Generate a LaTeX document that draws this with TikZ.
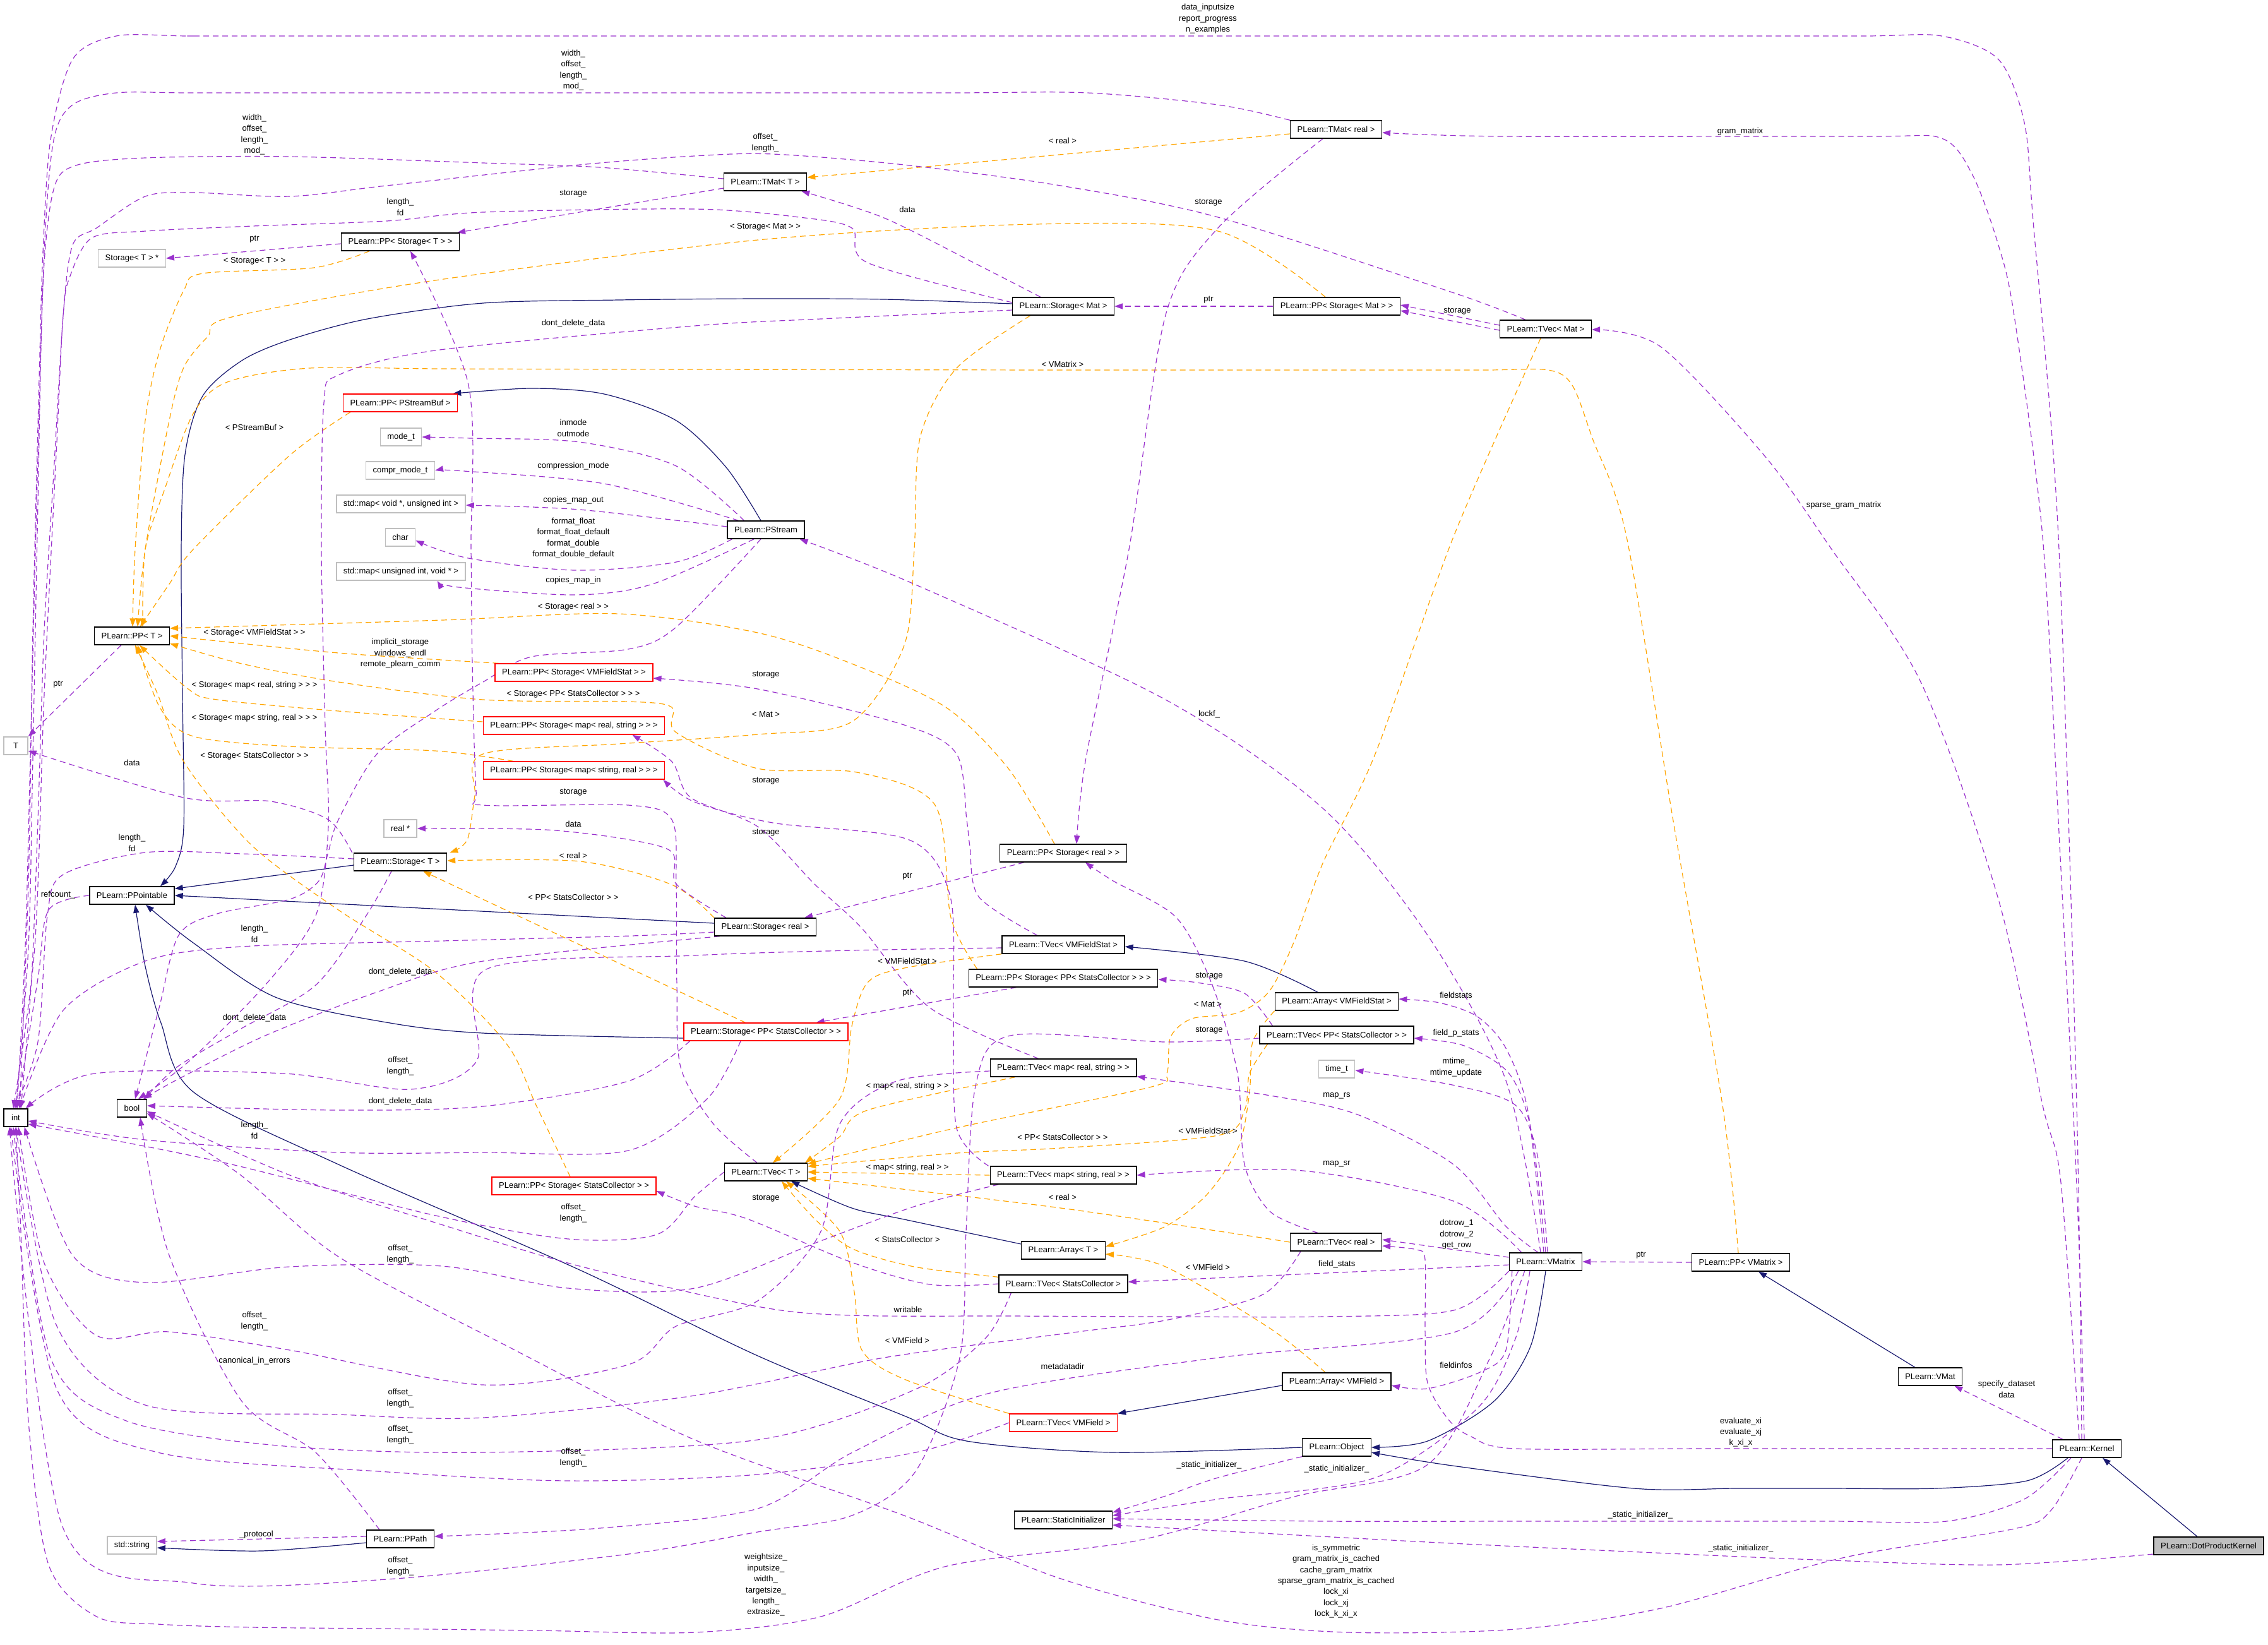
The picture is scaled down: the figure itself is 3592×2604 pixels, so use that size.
\documentclass[tikz,border=0pt]{standalone}
\usepackage{fontspec}
\setmainfont{Liberation Sans}
\usetikzlibrary{arrows.meta,calc}
\definecolor{edgeuse}{HTML}{9A32CD}
\definecolor{edgetpl}{HTML}{FFA500}
\definecolor{edgeinh}{HTML}{191970}
\definecolor{boxgray}{HTML}{BFBFBF}
\newcommand{\boxfont}{\fontsize{6.5}{7.8}\selectfont}
\newcommand{\lblfont}{\fontsize{6.5}{8.7}\selectfont}
\pgfdeclarelayer{edges}
\pgfsetlayers{edges,main}
\tikzset{
  cls/.style={draw=black, line width=0.7pt, fill=white, inner xsep=5.5pt, inner ysep=0pt, minimum height=14pt, font=\boxfont},
  clsred/.style={cls, draw=red},
  clsext/.style={cls, draw=boxgray},
  clscur/.style={cls, fill=boxgray},
  inh/.style={draw=edgeinh, line width=0.6pt, -{Triangle[length=6.5pt,width=4.6pt]}},
  usage/.style={draw=edgeuse, line width=0.6pt, dash pattern=on 4.5pt off 3pt, -{Triangle[length=6.5pt,width=4.6pt]}},
  tmpl/.style={draw=edgetpl, line width=0.6pt, dash pattern=on 4.5pt off 3pt, -{Triangle[length=6.5pt,width=4.6pt]}},
  lbl/.style={font=\lblfont, align=center, inner sep=0pt},
}
\begin{document}
\begin{tikzpicture}[x=0.5pt,y=-0.5pt]
\useasboundingbox (0,0) rectangle (3592,2604);

% Class nodes
\node[clscur] (dpk) at (3498,2448) {PLearn::DotProductKernel};
\node[cls] (kernel) at (3305,2294) {PLearn::Kernel};
\node[cls] (vmat) at (3057,2180) {PLearn::VMat};
\node[cls] (ppvmatrix) at (2757,1999) {PLearn::PP< VMatrix >};
\node[cls] (vmatrix) at (2448,1998) {PLearn::VMatrix};
\node[cls] (tvecmat) at (2448,521) {PLearn::TVec< Mat >};
\node[cls] (tmatreal) at (2116,205) {PLearn::TMat< real >};
\node[cls] (ppstmat) at (2117,485) {PLearn::PP< Storage< Mat > >};
\node[cls] (arrvmfs) at (2117,1586) {PLearn::Array< VMFieldStat >};
\node[cls] (tvecppsc) at (2117,1639) {PLearn::TVec< PP< StatsCollector > >};
\node[clsext] (timet) at (2117,1693) {time\_t};
\node[cls] (tvecreal) at (2116,1967) {PLearn::TVec< real >};
\node[cls] (arrvmf) at (2117,2188) {PLearn::Array< VMField >};
\node[cls] (object) at (2117,2292) {PLearn::Object};
\node[cls] (stmat) at (1684,485) {PLearn::Storage< Mat >};
\node[cls] (ppstreal) at (1684,1351) {PLearn::PP< Storage< real > >};
\node[cls] (tvecvmfs) at (1684,1496) {PLearn::TVec< VMFieldStat >};
\node[cls] (ppstppsc) at (1684,1549) {PLearn::PP< Storage< PP< StatsCollector > > >};
\node[cls] (tvecmrs) at (1684,1691) {PLearn::TVec< map< real, string > >};
\node[cls] (tvecmsr) at (1684,1861) {PLearn::TVec< map< string, real > >};
\node[cls] (arrt) at (1684,1980) {PLearn::Array< T >};
\node[cls] (tvecsc) at (1684,2033) {PLearn::TVec< StatsCollector >};
\node[clsred] (tvecvmf) at (1684,2253) {PLearn::TVec< VMField >};
\node[cls] (statinit) at (1684,2407) {PLearn::StaticInitializer};
\node[cls] (tmatt) at (1212,288) {PLearn::TMat< T >};
\node[cls] (pstream) at (1213,839) {PLearn::PStream};
\node[cls] (streal) at (1212,1468) {PLearn::Storage< real >};
\node[clsred] (stppsc) at (1213,1634) {PLearn::Storage< PP< StatsCollector > >};
\node[cls] (tvect) at (1213,1856) {PLearn::TVec< T >};
\node[clsred] (ppstvmfs) at (909,1065) {PLearn::PP< Storage< VMFieldStat > >};
\node[clsred] (ppstmrs) at (909,1149) {PLearn::PP< Storage< map< real, string > > >};
\node[clsred] (ppstmsr) at (909,1220) {PLearn::PP< Storage< map< string, real > > >};
\node[clsred] (ppstsc) at (909,1878) {PLearn::PP< Storage< StatsCollector > >};
\node[cls] (ppstt) at (634,383) {PLearn::PP< Storage< T > >};
\node[clsred] (pppsb) at (634,638) {PLearn::PP< PStreamBuf >};
\node[clsext] (modet) at (635,692) {mode\_t};
\node[clsext] (comprmodet) at (634,745) {compr\_mode\_t};
\node[clsext] (mapvoid) at (635,798) {std::map< void *, unsigned int >};
\node[clsext] (chart) at (634,851) {char};
\node[clsext] (mapuint) at (635,905) {std::map< unsigned int, void * >};
\node[clsext] (realptr) at (634,1312) {real *};
\node[cls] (stt) at (634,1365) {PLearn::Storage< T >};
\node[cls] (ppath) at (634,2437) {PLearn::PPath};
\node[clsext] (stptr) at (209,409) {Storage< T > *};
\node[cls] (ppt) at (209,1007) {PLearn::PP< T >};
\node[cls] (ppointable) at (209,1418) {PLearn::PPointable};
\node[cls] (bool) at (209,1755) {bool};
\node[clsext] (stdstring) at (209,2447) {std::string};
\node[clsext, minimum width=19pt] (tnode) at (25,1181) {T};
\node[cls, minimum width=19pt] (int) at (25,1770) {int};

\begin{pgfonlayer}{edges}
% Inheritance
\draw[inh] ($(dpk.north)+(-18,0)$) -- ($(kernel.south)+(25,0)$);
\draw[inh] plot[smooth] coordinates {($(kernel.south)+(-30,0)$) (3210,2345) (3066,2357) (2900,2357) (2750,2357) (2588,2357) (2300,2321) ($(object.east)+(0,8)$)};
\draw[inh] plot[smooth] coordinates {(vmatrix.south) (2424,2132) (2366,2219) (2261,2282) (object.east)};
\draw[inh] ($(vmat.north)+(-24,0)$) -- ($(ppvmatrix.south)+(28,0)$);
\draw[inh] plot[smooth] coordinates {(object.west) (1763,2300) (1531,2282) (1432,2242) (1200,2147) (918,2011) (536,1844) (306,1729) (255,1620) (230,1530) ($(ppointable.south)+(5,0)$)};
\draw[inh] plot[smooth] coordinates {($(stppsc.west)+(0,10)$) (765,1636) (612,1619) (436,1579) (306,1493) ($(ppointable.south)+(22,0)$)};
\draw[inh] ($(stt.west)+(0,5)$) -- ($(ppointable.north east)+(0,4)$);
\draw[inh] ($(streal.west)+(0,-6)$) -- (ppointable.east);
\draw[inh] plot[smooth] coordinates {($(stmat.west)+(0,-4)$) (1400,474) (1200,473) (980,475) (765,480) (582,505) (459,538) (383,571) (321,627) (293,720) (287,870) (289,1100) (291,1309) (278,1372) ($(ppointable.north)+(45,0)$)};
\draw[inh] plot[smooth] coordinates {($(pstream.north)+(-8,0)$) (1150,740) (1071,666) (957,624) (842,615) ($(pppsb.north east)+(-8,0)$)};
\draw[inh] plot[smooth] coordinates {($(ppath.west)+(0,6)$) (413,2456) ($(stdstring.east)+(0,4)$)};
\draw[inh] plot[smooth] coordinates {($(arrvmfs.north)+(-30,0)$) (1971,1522) ($(tvecvmfs.east)+(0,3)$)};
\draw[inh] ($(arrvmf.west)+(0,6)$) -- (tvecvmf.north east);
\draw[inh] plot[smooth] coordinates {($(arrt.west)+(0,-10)$) (1432,1931) (1349,1913) ($(tvect.south)+(40,0)$)};

% Template instances
\draw[tmpl] ($(tmatreal.west)+(0,7)$) -- ($(tmatt.east)+(0,-7)$);
\draw[tmpl] plot[smooth] coordinates {($(ppstt.south west)+(45,0)$) (497,424) (321,433) (291,460) (253,555) (230,666) (214,870) ($(ppt.north)+(1,0)$)};
\draw[tmpl] plot[smooth] coordinates {($(ppstmat.north)+(-18,0)$) (1929,366) (1639,355) (1200,380) (689,444) (367,502) (329,533) (291,582) (268,666) (230,870) ($(ppt.north)+(9,0)$)};
\draw[tmpl] plot[smooth] coordinates {($(pppsb.south west)+(12,0)$) (459,721) (306,870) (268,925) ($(ppt.north)+(13,0)$)};
\draw[tmpl] plot[smooth] coordinates {($(ppvmatrix.north)+(-4,0)$) (2728,1750) (2650,1300) (2576,850) (2522,694) (2490,610) (2452,586) (2350,586) (2100,586) (1683,586) (1100,585) (700,584) (490,583) (360,605) (306,655) (260,777) (230,870) ($(ppt.north)+(17,0)$)};
\draw[tmpl] plot[smooth] coordinates {($(ppstreal.north)+(-14,0)$) (1597,1217) (1498,1120) (1349,1051) (1200,1002) (980,972) (700,982) ($(ppt.east)+(0,-12)$)};
\draw[tmpl] plot[smooth] coordinates {($(ppstvmfs.north west)+(6,0)$) (536,1034) (ppt.east)};
\draw[tmpl] plot[smooth] coordinates {($(ppstppsc.north west)+(14,0)$) (1506,1453) (1481,1275) (1357,1223) (1200,1217) (1071,1160) (1064,1120) (995,1111) (765,1108) (536,1080) (383,1051) ($(ppt.east)+(0,12)$)};
\draw[tmpl] plot[smooth] coordinates {($(ppstmrs.west)+(0,-6)$) (536,1126) (344,1108) (298,1091) ($(ppt.south)+(12,0)$)};
\draw[tmpl] plot[smooth] coordinates {($(ppstmsr.north west)+(48,0)$) (689,1189) (459,1182) (306,1166) (253,1120) ($(ppt.south)+(9,0)$)};
\draw[tmpl] plot[smooth] coordinates {($(ppstsc.north)+(-6,0)$) (849,1750) (803,1654) (689,1539) (536,1441) (398,1338) (291,1206) (250,1100) ($(ppt.south)+(5,0)$)};
\draw[tmpl] plot[smooth] coordinates {(streal.north west) (1064,1401) (918,1364) ($(stt.east)+(0,-2)$)};
\draw[tmpl] ($(stppsc.north west)+(98,0)$) -- ($(stt.south east)+(-38,0)$);
\draw[tmpl] plot[smooth] coordinates {($(stmat.south west)+(29,0)$) (1515,583) (1457,694) (1448,870) (1432,1022) (1349,1143) (1200,1163) (980,1178) (765,1194) (752,1260) (740,1330) ($(stt.north east)+(4,0)$)};
\draw[tmpl] plot[smooth] coordinates {(tvecvmfs.south west) (1432,1533) (1374,1556) (1349,1625) (1330,1740) ($(tvect.north)+(11,0)$)};
\draw[tmpl] plot[smooth] coordinates {($(tvecmrs.south west)+(40,0)$) (1374,1758) (1330,1800) ($(tvect.north)+(62,0)$)};
\draw[tmpl] (tvecmsr.west) -- (tvect.east);
\draw[tmpl] plot[smooth] coordinates {($(tvecppsc.south west)+(13,0)$) (1979,1700) (1971,1758) (1929,1798) (1680,1818) (1515,1826) ($(tvect.east)+(0,-9)$)};
\draw[tmpl] plot[smooth] coordinates {(arrvmfs.south west) (1984,1650) (1979,1729) (1962,1815) (1913,1890) (1846,1942) ($(arrt.east)+(0,-6)$)};
\draw[tmpl] plot[smooth] coordinates {($(tvecmat.south)+(-8,0)$) (2302,850) (2178,1194) (2095,1367) (2050,1490) (2010,1570) (1960,1604) (1888,1613) (1854,1642) (1848,1700) (1820,1722) (1515,1786) ($(tvect.east)+(0,-13)$)};
\draw[tmpl] plot[smooth] coordinates {(tvecreal.west) (1680,1913) ($(tvect.east)+(0,10)$)};
\draw[tmpl] plot[smooth] coordinates {($(arrvmf.north)+(-18,0)$) (2012,2104) (1846,2006) ($(arrt.east)+(0,6)$)};
\draw[tmpl] plot[smooth] coordinates {($(tvecsc.north west)+(0,4)$) (1448,2006) (1349,1977) (1291,1931) ($(tvect.south)+(25,0)$)};
\draw[tmpl] plot[smooth] coordinates {(tvecvmf.north west) (1432,2184) (1365,2138) (1353,2046) (1330,1950) ($(tvect.south)+(32,0)$)};

% Members of PLearn::Kernel and PLearn::DotProductKernel
\draw[usage] plot[smooth] coordinates {($(kernel.north)+(-8,0)$) (3289,1750) (3260,850) (3220,350) (3206,194) (3165,94) (3075,57) (2950,57) (2600,57) (500,57) (300,57) (184,57) (115,94) (80,222) (68,400) (62,600) (52,1000) (45,1400) ($(int.north)+(6,0)$)};
\draw[usage] plot[smooth] coordinates {($(kernel.north)+(-4,0)$) (3290,1900) (3260,1300) (3235,850) (3190,500) (3165,388) (3124,277) (3075,219) (2950,216) (2382,216) ($(tmatreal.east)+(0,5)$)};
\draw[usage] plot[smooth] coordinates {($(kernel.north)+(-12,0)$) (3264,1873) (3235,1750) (3165,1424) (3042,1080) (2901,870) (2794,721) (2630,549) ($(tvecmat.east)+(0,1)$)};
\draw[usage] ($(kernel.north west)+(17,0)$) -- ($(vmat.south east)+(-13,0)$);
\draw[usage] plot[smooth] coordinates {(kernel.west) (3000,2294) (2700,2294) (2399,2294) (2330,2275) (2294,2248) (2261,2190) (2257,2104) (2257,1995) (2244,1979) ($(tvecreal.east)+(0,6)$)};
\draw[usage] plot[smooth] coordinates {($(kernel.south west)+(30,0)$) (3206,2374) (3083,2409) (2900,2409) (2600,2409) (2400,2409) (2100,2409) ($(statinit.east)+(0,-2)$)};
\draw[usage] plot[smooth] coordinates {($(kernel.south)+(-8,0)$) (3248,2392) (3190,2421) (2918,2467) (2630,2547) (2400,2580) (2136,2585) (1929,2565) (1680,2500) (1432,2400) (1100,2280) (800,2130) (536,1990) (380,1860) ($(bool.east)+(0,8)$)};
\draw[usage] plot[smooth] coordinates {($(dpk.west)+(0,13)$) (3165,2478) (2877,2470) (2600,2458) (2300,2444) (2000,2428) ($(statinit.east)+(0,8)$)};

% Members of PLearn::Object and PLearn::VMatrix
\draw[usage] plot[smooth] coordinates {(object.south west) (1929,2340) (1846,2369) ($(statinit.east)+(0,-12)$)};
\draw[usage] plot[smooth] coordinates {($(vmatrix.south)+(-25,0)$) (2400,2120) (2340,2230) (2178,2340) (1929,2374) ($(statinit.east)+(0,-7)$)};
\draw[usage] (ppvmatrix.west) -- (vmatrix.east);
\draw[usage] plot[smooth] coordinates {($(vmatrix.north)+(-8,0)$) (2385,1711) (2261,1481) (2095,1280) (1846,1108) (1448,925) ($(pstream.south east)+(-8,0)$)};
\draw[usage] plot[smooth] coordinates {($(vmatrix.north)+(-3,0)$) (2420,1760) (2385,1660) (2340,1610) (2280,1588) ($(arrvmfs.east)+(0,-4)$)};
\draw[usage] plot[smooth] coordinates {(vmatrix.north) (2425,1790) (2390,1700) (2319,1656) ($(tvecppsc.east)+(0,5)$)};
\draw[usage] plot[smooth] coordinates {($(vmatrix.north)+(3,0)$) (2435,1830) (2400,1750) (2300,1718) ($(timet.east)+(0,2)$)};
\draw[usage] plot[smooth] coordinates {($(vmatrix.north)+(-12,0)$) (2385,1942) (2302,1844) (2150,1765) (2012,1735) ($(tvecmrs.south east)+(0,-1)$)};
\draw[usage] plot[smooth] coordinates {($(vmatrix.north west)+(20,0)$) (2302,1902) (2053,1853) (tvecmsr.east)};
\draw[usage] ($(vmatrix.west)+(0,-7)$) -- ($(tvecreal.east)+(0,-4)$);
\draw[usage] ($(vmatrix.west)+(0,5)$) -- ($(tvecsc.east)+(0,-3)$);
\draw[usage] plot[smooth] coordinates {(vmatrix.south west) (2302,2075) (2095,2085) (1850,2085) (1600,2084) (1349,2083) (1200,2069) (918,2005) (689,1936) (459,1861) ($(bool.east)+(0,5)$)};
\draw[usage] plot[smooth] coordinates {($(vmatrix.south west)+(15,0)$) (2302,2110) (1929,2150) (1564,2207) (1350,2300) (1200,2389) (950,2420) ($(ppath.east)+(0,-4)$)};
\draw[usage] plot[smooth] coordinates {($(vmatrix.south west)+(25,0)$) (2360,2150) (2260,2320) (2050,2370) (1800,2440) (1500,2480) (1300,2560) (1100,2585) (850,2582) (600,2579) (400,2577) (250,2572) (153,2560) (77,2478) (45,2250) (33,1950) (int.south)};
\draw[usage] plot[smooth] coordinates {($(vmatrix.south west)+(5,0)$) (2385,2138) (2344,2173) (2261,2199) ($(arrvmf.east)+(0,6)$)};

% Members of the matrix and vector classes
\draw[usage] plot[smooth] coordinates {(tmatreal.north west) (1929,166) (1722,147) (1500,147) (1000,147) (500,147) (300,147) (184,147) (115,166) (85,222) (70,400) (58,800) (48,1200) (40,1500) ($(int.north)+(2,0)$)};
\draw[usage] plot[smooth] coordinates {($(tmatreal.south)+(-21,0)$) (1929,361) (1846,499) (1788,870) (1720,1200) ($(ppstreal.north)+(21,0)$)};
\draw[usage] plot[smooth] coordinates {($(tmatt.west)+(0,-5)$) (950,265) (765,258) (459,248) (230,250) (120,262) (85,300) (68,450) (60,800) (52,1200) (45,1500) (int.north)};
\draw[usage] ($(tmatt.west)+(0,10)$) -- ($(ppstt.north east)+(-4,0)$);
\draw[usage] plot[smooth] coordinates {($(tvecmat.north west)+(41,0)$) (2300,463) (1929,344) (1680,294) (1432,261) (1224,244) (1100,247) (918,261) (612,294) (459,311) (306,305) (230,311) (153,361) (115,388) (100,500) (90,700) (70,1100) (55,1500) ($(int.north)+(-4,0)$)};
\draw[usage] ($(tvecmat.west)+(0,2)$) -- ($(ppstmat.east)+(0,7)$);
\draw[usage] (ppstmat.west) -- (stmat.east);
\draw[usage] plot[smooth] coordinates {($(stmat.north west)+(45,0)$) (1550,420) (1400,345) ($(tmatt.south east)+(-9,0)$)};
\draw[usage] plot[smooth] coordinates {($(stmat.west)+(0,-6)$) (1374,416) (1349,361) (1266,344) (1100,331) (765,336) (612,350) (400,358) (230,366) (145,377) (110,440) (100,500) (85,750) (70,1000) (60,1300) (50,1550) ($(int.north)+(8,0)$)};
\draw[usage] plot[smooth] coordinates {($(stmat.west)+(0,6)$) (1300,505) (1100,516) (689,555) (536,594) (513,638) (509,870) (515,1150) (520,1309) (500,1450) (420,1560) (300,1680) ($(bool.north)+(10,0)$)};
\draw[usage] ($(ppstt.west)+(0,3)$) -- (stptr.east);

% Members of PLearn::PStream
\draw[usage] plot[smooth] coordinates {($(pstream.north west)+(27,0)$) (1071,738) (918,700) (746,694) (modet.east)};
\draw[usage] plot[smooth] coordinates {($(pstream.north west)+(18,0)$) (957,766) (735,746) (comprmodet.east)};
\draw[usage] plot[smooth] coordinates {($(pstream.west)+(0,-5)$) (918,807) ($(mapvoid.east)+(0,2)$)};
\draw[usage] plot[smooth] coordinates {($(pstream.south west)+(8,0)$) (1071,890) (911,903) (742,884) ($(chart.east)+(0,5)$)};
\draw[usage] plot[smooth] coordinates {($(pstream.south)+(-19,0)$) (1033,925) (911,942) (727,930) ($(mapuint.south east)+(-45,0)$)};
\draw[usage] plot[smooth] coordinates {($(pstream.south)+(-8,0)$) (1071,993) (995,1028) (842,1040) (765,1080) (689,1126) (597,1194) (536,1298) (520,1349) (505,1395) (459,1424) (344,1447) (283,1481) (252,1596) ($(bool.north)+(5,0)$)};

% Members of the storage classes
\draw[usage] ($(ppt.south west)+(43,0)$) -- (tnode.north east);
\draw[usage] plot[smooth] coordinates {($(stt.north west)+(-2,0)$) (520,1298) (429,1269) (291,1263) ($(tnode.east)+(0,8)$)};
\draw[usage] plot[smooth] coordinates {($(stt.west)+(0,-5)$) (383,1352) (230,1350) (100,1385) (75,1450) (60,1650) ($(int.north)+(-2,0)$)};
\draw[usage] plot[smooth] coordinates {(ppointable.west) (77,1441) (60,1550) ($(int.north)+(2,0)$)};
\draw[usage] plot[smooth] coordinates {($(streal.west)+(0,8)$) (1000,1482) (700,1490) (383,1499) (230,1522) (100,1600) ($(int.north)+(6,0)$)};
\draw[usage] plot[smooth] coordinates {($(streal.south west)+(9,0)$) (765,1522) (600,1570) (420,1640) (280,1710) ($(bool.north east)+(-6,0)$)};
\draw[usage] plot[smooth] coordinates {($(stt.south)+(-14,0)$) (580,1450) (500,1560) (380,1630) (280,1690) ($(bool.north)+(20,0)$)};
\draw[usage] plot[smooth] coordinates {($(stppsc.south west)+(10,0)$) (995,1712) (765,1752) (536,1758) ($(bool.east)+(0,-4)$)};
\draw[usage] plot[smooth] coordinates {($(stppsc.south)+(-40,0)$) (1120,1740) (995,1822) (765,1825) (536,1825) (230,1805) ($(int.east)+(0,5)$)};
\draw[usage] ($(ppstreal.south west)+(39,0)$) -- ($(streal.north east)+(-19,0)$);
\draw[usage] plot[smooth] coordinates {($(streal.north west)+(19,0)$) (1071,1400) (1056,1344) (880,1315) (realptr.east)};
\draw[usage] ($(ppstppsc.south west)+(76,0)$) -- ($(stppsc.north east)+(-51,0)$);

% storage members of the vector classes
\draw[usage] plot[smooth] coordinates {($(tvecvmfs.north)+(-41,0)$) (1550,1420) (1536,1340) (1531,1298) (1515,1194) (1432,1148) (1200,1091) ($(ppstvmfs.east)+(0,9)$)};
\draw[usage] plot[smooth] coordinates {($(tvecmrs.north west)+(77,0)$) (1473,1596) (1365,1470) (1291,1401) (1200,1309) (1094,1263) (1064,1206) ($(ppstmrs.south east)+(-52,0)$)};
\draw[usage] plot[smooth] coordinates {($(tvecmsr.north west)+(-2,0)$) (1515,1786) (1510,1600) (1505,1420) (1440,1330) (1224,1303) (1100,1270) ($(ppstmsr.south east)+(-3,0)$)};
\draw[usage] plot[smooth] coordinates {($(tvect.north)+(-14,0)$) (1130,1780) (1078,1690) (1072,1560) (1071,1400) (1064,1298) (995,1275) (765,1275) (754,1252) (748,1050) (746,870) (742,610) ($(ppstt.south)+(16,0)$)};
\draw[usage] plot[smooth] coordinates {(tvecsc.west) (1473,2034) (1349,1999) (1183,1930) (1100,1910) ($(ppstsc.east)+(0,8)$)};
\draw[usage] plot[smooth] coordinates {($(tvecppsc.north west)+(21,0)$) (1971,1573) (1896,1556) ($(ppstppsc.east)+(0,2)$)};
\draw[usage] plot[smooth] coordinates {($(tvecreal.north)+(-29,0)$) (2012,1919) (1971,1844) (1960,1700) (1920,1560) (1863,1453) (1763,1395) ($(ppstreal.south east)+(-66,0)$)};
\draw[usage] ($(tvecmat.west)+(0,-6)$) -- ($(ppstmat.east)+(0,-2)$);

% offset_ and length_ of the vector classes
\draw[usage] plot[smooth] coordinates {($(tvecvmfs.west)+(0,5)$) (1350,1505) (1100,1513) (770,1535) (755,1680) (650,1725) (450,1700) (150,1700) ($(int.north east)+(-4,0)$)};
\draw[usage] plot[smooth] coordinates {(tvect.west) (1100,1895) (1040,1955) (900,1962) (690,1925) (350,1840) ($(int.east)+(0,10)$)};
\draw[usage] plot[smooth] coordinates {($(tvecmsr.south west)+(14,0)$) (1450,1910) (1300,1965) (1100,2040) (900,2040) (700,2005) (459,2006) (230,2031) (115,1988) ($(int.south east)+(-6,0)$)};
\draw[usage] plot[smooth] coordinates {($(tvecmrs.west)+(0,5)$) (1420,1712) (1330,1780) (1300,1950) (1200,2060) (1071,2100) (995,2161) (765,2193) (459,2138) (268,2109) (153,2115) (70,2000) ($(int.south)+(4,0)$)};
\draw[usage] plot[smooth] coordinates {($(tvecreal.south west)+(17,0)$) (2000,2050) (1850,2090) (1700,2110) (1400,2150) (1100,2210) (765,2245) (536,2240) (230,2225) (90,2100) (int.south)};
\draw[usage] plot[smooth] coordinates {($(tvecsc.south west)+(20,0)$) (1560,2120) (1450,2200) (1200,2280) (765,2300) (450,2290) (200,2250) (80,2150) ($(int.south)+(-4,0)$)};
\draw[usage] plot[smooth] coordinates {(tvecvmf.west) (1450,2300) (1200,2335) (900,2345) (600,2330) (250,2300) (90,2200) ($(int.south)+(-8,0)$)};
\draw[usage] plot[smooth] coordinates {($(tvecppsc.west)+(0,5)$) (1846,1650) (1600,1640) (1545,1720) (1530,1950) (1520,2150) (1450,2330) (1349,2400) (1200,2426) (995,2461) (612,2501) (306,2507) (100,2420) ($(int.south)+(-10,0)$)};

% Members of PLearn::PPath
\draw[usage] plot[smooth] coordinates {($(ppath.north)+(-33,0)$) (500,2300) (383,2219) (268,1988) ($(bool.south)+(13,0)$)};
\draw[usage] ($(ppath.west)+(0,-4)$) -- ($(stdstring.east)+(0,-6)$);
\end{pgfonlayer}

% Text Node
\node[lbl] (l-kint) at (1913,30) {data\_inputsize\\report\_progress\\n\_examples};
\node[lbl] (l-tmrint) at (908,111) {width\_\\offset\_\\length\_\\mod\_};
\node[lbl] (l-tmtint) at (403,213) {width\_\\offset\_\\length\_\\mod\_};
\node[lbl] (l-tmreal) at (1683,223) {< real >};
\node[lbl] (l-tvmint) at (1212,226) {offset\_\\length\_};
\node[lbl] (l-gram) at (2756,208) {gram\_matrix};
\node[lbl] (l-tmtst) at (908,307) {storage};
\node[lbl] (l-tmrst) at (1914,321) {storage};
\node[lbl] (l-smint) at (634,328) {length\_\\fd};
\node[lbl] (l-smdata) at (1437,332) {data};
\node[lbl] (l-ppsm) at (1212,359) {< Storage< Mat > >};
\node[lbl] (l-ppstptr) at (403,379) {ptr};
\node[lbl] (l-ppst) at (403,413) {< Storage< T > >};
\node[lbl] (l-ppsmptr) at (1914,475) {ptr};
\node[lbl] (l-tvmst) at (2308,493) {storage};
\node[lbl] (l-smbool) at (908,512) {dont\_delete\_data};
\node[lbl] (l-ppvm) at (1683,577) {< VMatrix >};
\node[lbl] (l-pppsb) at (403,677) {< PStreamBuf >};
\node[lbl] (l-mode) at (908,678) {inmode\\outmode};
\node[lbl] (l-compr) at (908,738) {compression\_mode};
\node[lbl] (l-mapout) at (908,792) {copies\_map\_out};
\node[lbl] (l-sparse) at (2920,800) {sparse\_gram\_matrix};
\node[lbl] (l-format) at (908,852) {format\_float\\format\_float\_default\\format\_double\\format\_double\_default};
\node[lbl] (l-mapin) at (908,919) {copies\_map\_in};
\node[lbl] (l-ppsr) at (908,961) {< Storage< real > >};
\node[lbl] (l-ppsvmfs) at (403,1002) {< Storage< VMFieldStat > >};
\node[lbl] (l-psbool) at (634,1035) {implicit\_storage\\windows\_endl\\remote\_plearn\_comm};
\node[lbl] (l-tvfsst) at (1213,1069) {storage};
\node[lbl] (l-pptptr) at (92,1084) {ptr};
\node[lbl] (l-ppsmrs) at (403,1085) {< Storage< map< real, string > > >};
\node[lbl] (l-ppsppsc) at (908,1099) {< Storage< PP< StatsCollector > > >};
\node[lbl] (l-smt) at (1213,1131) {< Mat >};
\node[lbl] (l-lockf) at (1915,1131) {lockf\_};
\node[lbl] (l-ppsmsr) at (403,1137) {< Storage< map< string, real > > >};
\node[lbl] (l-ppssc) at (403,1197) {< Storage< StatsCollector > >};
\node[lbl] (l-sttdata) at (209,1208) {data};
\node[lbl] (l-tvrsst) at (1213,1237) {storage};
\node[lbl] (l-tvtst) at (908,1255) {storage};
\node[lbl] (l-srdata) at (908,1305) {data};
\node[lbl] (l-tvsrst) at (1213,1319) {storage};
\node[lbl] (l-sttint) at (209,1335) {length\_\\fd};
\node[lbl] (l-srt) at (908,1355) {< real >};
\node[lbl] (l-ppsrptr) at (1437,1388) {ptr};
\node[lbl] (l-refc) at (92,1417) {refcount\_};
\node[lbl] (l-sppsc) at (908,1421) {< PP< StatsCollector > >};
\node[lbl] (l-srint) at (403,1479) {length\_\\fd};
\node[lbl] (l-tvfs) at (1437,1522) {< VMFieldStat >};
\node[lbl] (l-srbool) at (634,1539) {dont\_delete\_data};
\node[lbl] (l-tvppst) at (1915,1546) {storage};
\node[lbl] (l-ppspptr) at (1437,1573) {ptr};
\node[lbl] (l-fstats) at (2306,1576) {fieldstats};
\node[lbl] (l-tvmt) at (1913,1590) {< Mat >};
\node[lbl] (l-sttbool) at (403,1612) {dont\_delete\_data};
\node[lbl] (l-tvrst) at (1915,1632) {storage};
\node[lbl] (l-fpstats) at (2306,1636) {field\_p\_stats};
\node[lbl] (l-tvfsint) at (634,1688) {offset\_\\length\_};
\node[lbl] (l-mtime) at (2306,1690) {mtime\_\\mtime\_update};
\node[lbl] (l-tvmrs) at (1437,1720) {< map< real, string > >};
\node[lbl] (l-maprs) at (2117,1735) {map\_rs};
\node[lbl] (l-spbool) at (634,1744) {dont\_delete\_data};
\node[lbl] (l-spint) at (403,1790) {length\_\\fd};
\node[lbl] (l-arfs) at (1913,1791) {< VMFieldStat >};
\node[lbl] (l-tvppsc) at (1683,1801) {< PP< StatsCollector > >};
\node[lbl] (l-mapsr) at (2117,1843) {map\_sr};
\node[lbl] (l-tvmsr) at (1437,1849) {< map< string, real > >};
\node[lbl] (l-tvscst) at (1213,1898) {storage};
\node[lbl] (l-tvr) at (1683,1896) {< real >};
\node[lbl] (l-tvtint) at (908,1921) {offset\_\\length\_};
\node[lbl] (l-dotrow) at (2307,1955) {dotrow\_1\\dotrow\_2\\get\_row};
\node[lbl] (l-tvsc) at (1437,1963) {< StatsCollector >};
\node[lbl] (l-tvsrint) at (634,1986) {offset\_\\length\_};
\node[lbl] (l-fstat) at (2117,2002) {field\_stats};
\node[lbl] (l-arvmf) at (1913,2007) {< VMField >};
\node[lbl] (l-writ) at (1438,2074) {writable};
\node[lbl] (l-tvrsint) at (403,2092) {offset\_\\length\_};
\node[lbl] (l-tvvmf) at (1437,2123) {< VMField >};
\node[lbl] (l-canon) at (403,2155) {canonical\_in\_errors};
\node[lbl] (l-finfo) at (2306,2162) {fieldinfos};
\node[lbl] (l-meta) at (1683,2164) {metadatadir};
\node[lbl] (l-spec) at (3178,2200) {specify\_dataset\\data};
\node[lbl] (l-tvrint) at (634,2214) {offset\_\\length\_};
\node[lbl] (l-eval) at (2757,2268) {evaluate\_xi\\evaluate\_xj\\k\_xi\_x};
\node[lbl] (l-tvscint) at (634,2272) {offset\_\\length\_};
\node[lbl] (l-tvvmfint) at (908,2308) {offset\_\\length\_};
\node[lbl] (l-objsi) at (1915,2320) {\_static\_initializer\_};
\node[lbl] (l-vmsi) at (2117,2326) {\_static\_initializer\_};
\node[lbl] (l-ksi) at (2598,2399) {\_static\_initializer\_};
\node[lbl] (l-proto) at (406,2430) {\_protocol};
\node[lbl] (l-dpksi) at (2757,2452) {\_static\_initializer\_};
\node[lbl] (l-kbool) at (2116,2504) {is\_symmetric\\gram\_matrix\_is\_cached\\cache\_gram\_matrix\\sparse\_gram\_matrix\_is\_cached\\lock\_xi\\lock\_xj\\lock\_k\_xi\_x};
\node[lbl] (l-tvppint) at (634,2480) {offset\_\\length\_};
\node[lbl] (l-vmint) at (1213,2510) {weightsize\_\\inputsize\_\\width\_\\targetsize\_\\length\_\\extrasize\_};
\node[lbl] (l-vmptr) at (2599,1988) {ptr};
\end{tikzpicture}
\end{document}
